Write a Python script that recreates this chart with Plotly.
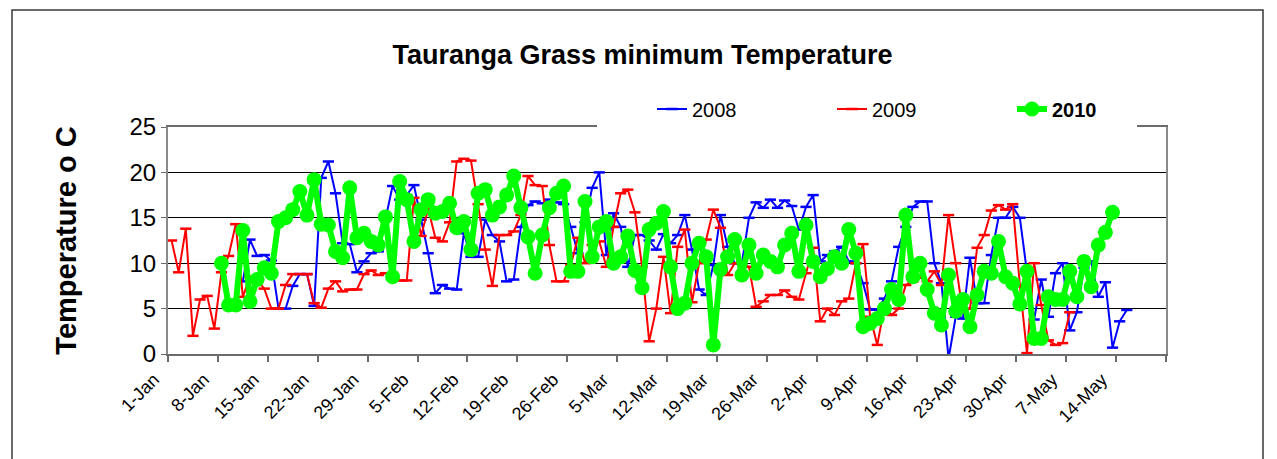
import pandas as pd
import plotly.graph_objects as go

# ---- data ----
days = pd.date_range("2010-01-01", periods=140)
day_labels = [f"{d.day}-{d:%b}" for d in days]
tick_labels = day_labels[0:134:7]  # 1-Jan ... 14-May

t2008_start = 10
t2008 = [8.0, 12.6, 10.8, 10.9, 10.3, 5.0, 5.0, 7.5, 8.8, 8.8,
         5.3, 19.4, 21.2, 17.7, 12.2, 12.1, 9.0, 10.2, 11.1, 11.3,
         14.8, 18.5, 17.0, 17.5, 18.6, 14.8, 11.1, 6.7, 7.6, 7.2,
         7.1, 13.3, 10.7, 10.7, 14.8, 13.1, 12.4, 8.0, 8.2, 14.0,
         16.4, 16.8, 16.6, 17.0, 16.7, 16.5, 14.0, 11.1, 14.5, 18.3,
         20.0, 10.9, 15.5, 14.0, 9.6, 13.1, 13.1, 12.5, 11.5, 13.2,
         12.2, 13.1, 15.3, 11.5, 7.1, 6.5, 9.8, 15.3, 11.8, 10.0,
         10.0, 15.0, 16.7, 16.1, 17.0, 16.1, 16.9, 16.3, 13.7, 16.2,
         17.5, 10.2, 10.9, 11.3, 11.8, 10.2, 10.0, 7.8, 4.9, 4.9,
         6.1, 8.0, 11.8, 14.0, 16.2, 16.8, 16.8, 10.0, 7.8, -0.5,
         4.1, 3.9, 10.6, 5.6, 5.6, 10.9, 15.0, 15.0, 16.2, 15.0,
         9.0, 3.8, 8.2, 4.1, 8.9, 10.0, 2.6, 4.6, 9.5, 10.2,
         6.3, 7.9, 0.7, 3.6, 4.85]

t2009_start = 0
t2009 = [12.5, 9.0, 13.8, 2.0, 6.0, 6.4, 2.8, 9.0, 10.8, 14.3,
         6.3, 8.5, 8.2, 7.2, 5.0, 5.0, 7.6, 8.8, 8.8, 8.8,
         5.6, 5.1, 7.2, 8.0, 6.9, 7.1, 7.1, 8.8, 9.2, 8.7,
         8.9, 8.9, 8.1, 8.1, 17.2, 13.0, 16.0, 12.8, 12.4, 14.5,
         21.2, 21.5, 21.3, 16.5, 11.5, 7.5, 13.1, 13.1, 13.5, 15.3,
         19.6, 18.6, 18.5, 12.0, 8.0, 8.0, 9.8, 12.8, 10.0, 12.0,
         12.4, 9.6, 14.0, 17.7, 18.1, 15.6, 9.6, 1.4, 5.0, 10.7,
         4.5, 11.8, 13.7, 5.7, 10.0, 12.6, 15.9, 13.9, 8.7, 10.0,
         10.0, 9.6, 5.2, 5.8, 6.5, 6.5, 7.0, 6.3, 6.0, 8.9,
         11.7, 3.6, 5.0, 4.3, 5.8, 6.1, 10.0, 12.1, 4.1, 1.0,
         5.2, 4.3, 5.0, 7.6, 8.0, 8.5, 8.0, 9.1, 7.6, 15.3,
         10.0, 4.6, 5.0, 11.7, 13.1, 15.8, 16.4, 15.9, 16.5, 7.6,
         0.1, 10.0, 5.4, 1.5, 1.0, 1.2, 4.6]

t2010_start = 7
t2010 = [10.0, 5.4, 5.4,
         13.6, 5.8, 8.2, 9.5, 8.9, 14.6, 15.0, 15.9, 17.9, 15.3,
         19.2, 14.3, 14.2, 11.3, 10.6, 18.3, 12.8, 13.3, 12.4, 12.0,
         15.1, 8.5, 19.0, 17.0, 12.4, 15.9, 17.0, 15.5, 15.7, 16.6,
         13.9, 14.6, 11.5, 17.7, 18.1, 15.3, 16.2, 17.5, 19.6, 16.1,
         12.9, 8.9, 13.1, 16.1, 17.7, 18.5, 9.1, 9.1, 16.8, 10.7,
         14.0, 14.6, 10.0, 10.7, 13.0, 9.2, 7.3, 13.7, 14.4, 15.7,
         9.6, 5.0, 5.6, 10.0, 12.2, 10.7, 1.0, 9.3, 10.7, 12.6,
         8.7, 12.0, 8.9, 10.9, 10.2, 9.6, 12.0, 13.3, 9.1, 14.2,
         10.2, 8.5, 9.4, 10.7, 10.0, 13.7, 11.1, 3.0, 3.4, 3.9,
         5.0, 7.1, 6.0, 15.3, 8.5, 10.0, 7.1, 4.5, 3.2, 8.7,
         4.7, 6.0, 3.0, 6.5, 9.1, 8.9, 12.4, 8.5, 7.8, 5.5,
         9.1, 1.7, 1.7, 6.3, 6.0, 6.0, 9.1, 6.3, 10.2, 7.4,
         12.0, 13.4, 15.6]

FONT = "Liberation Sans, Arial, sans-serif"

# plot area in page pixels (page has an 8px body margin)
PL, PR, PT, PB = 168, 1166, 127, 354
OFF = 8
W, H = 1277 - OFF, 459 - OFF


def px_x(px):
    return (px - PL) / (PR - PL)


def px_y(py):
    return (PB - py) / (PB - PT)


def xs(start, vals):
    return list(range(start, start + len(vals)))


fig = go.Figure()
fig.add_trace(go.Scatter(
    x=xs(t2008_start, t2008), y=t2008, name="2008", mode="lines+markers",
    line=dict(color="#0000FF", width=2),
    marker=dict(symbol="line-ew", size=8, color="#0000FF",
                line=dict(color="#0000FF", width=2.5)),
))
fig.add_trace(go.Scatter(
    x=xs(t2009_start, t2009), y=t2009, name="2009", mode="lines+markers",
    line=dict(color="#FF0000", width=2),
    marker=dict(symbol="line-ew", size=8, color="#FF0000",
                line=dict(color="#FF0000", width=2.5)),
))
fig.add_trace(go.Scatter(
    x=xs(t2010_start, t2010), y=t2010, name="<b>2010</b>", mode="lines+markers",
    line=dict(color="#00FF00", width=6),
    marker=dict(symbol="circle", size=15, color="#00FF00"),
))

tickvals = [i - 0.5 for i in range(0, 134, 7)] + [139.5]
ticktext = tick_labels + [""]

fig.update_layout(
    width=W, height=H,
    margin=dict(l=PL - OFF, r=W - (PR - OFF), t=PT - OFF, b=H - (PB - OFF)),
    paper_bgcolor="white", plot_bgcolor="white",
    font=dict(family=FONT, color="black"),
    title=dict(text="<b>Tauranga Grass minimum Temperature</b>",
               x=0.5, xanchor="center", y=1 - (55 - OFF) / H, yanchor="middle",
               font=dict(size=27, family=FONT, color="black")),
    showlegend=True,
    legend=dict(orientation="h", x=px_x(652), xanchor="left", y=px_y(109), yanchor="middle",
                bgcolor="rgba(0,0,0,0)", font=dict(size=20, family=FONT, color="black"),
                entrywidth=135, itemwidth=30, borderwidth=0),
    xaxis=dict(range=[-0.5, 139.5], tickmode="array", tickvals=tickvals, ticktext=ticktext,
               tickangle=-45, tickfont=dict(size=18, family=FONT, color="black"),
               ticklabelshift=-14,
               showgrid=False, zeroline=False, showline=True, linecolor="#6b6b6b", linewidth=2,
               mirror=True, ticks="outside", ticklen=6, tickcolor="#6b6b6b", tickwidth=1.5),
    yaxis=dict(range=[0, 25], dtick=5, tickfont=dict(size=24, family=FONT, color="black"),
               showgrid=True, gridcolor="black", gridwidth=1, zeroline=False,
               showline=True, linecolor="#8a8a8a", linewidth=2, mirror=True,
               ticks="outside", ticklen=5, tickcolor="#6b6b6b",
               title=dict(text="<b>Temperature o C</b>", standoff=44,
                          font=dict(size=29, family=FONT, color="black"))),
    shapes=[
        # outer chart-area border
        dict(type="rect", xref="paper", yref="paper",
             x0=px_x(12), x1=px_x(1263), y0=px_y(470), y1=px_y(10),
             line=dict(color="#3a3a3a", width=1.5), fillcolor="rgba(0,0,0,0)",
             layer="below"),
        # legend box (white) hiding the plot-area top border behind the legend
        dict(type="rect", xref="paper", yref="paper",
             x0=px_x(597), x1=px_x(1137), y0=px_y(131), y1=px_y(95),
             line=dict(width=0), fillcolor="white", layer="above"),
    ],
)

fig.write_html("out.html")
